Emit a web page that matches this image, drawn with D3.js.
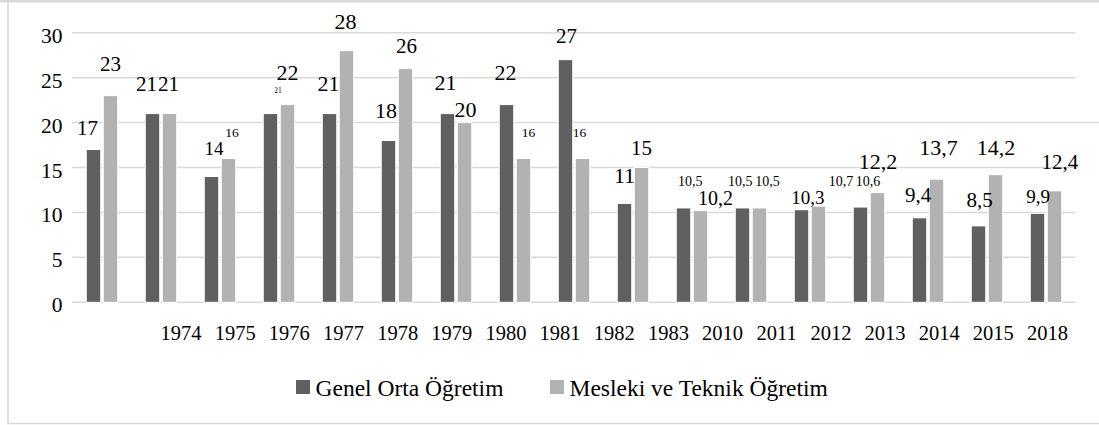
<!DOCTYPE html>
<html>
<head>
<meta charset="utf-8">
<script src="https://cdn.jsdelivr.net/npm/d3@7"></script>
<style>
  body { margin: 0; background: #fff; }
</style>
</head>
<body>
<div id="chart"></div>
<script>
// Data
var years = ["1974", "1975", "1976", "1977", "1978", "1979", "1980", "1981", "1982",
    "1983", "2010", "2011", "2012", "2013", "2014", "2015", "2018"];
var genel = [17, 21, 14, 21, 21, 18, 21, 22, 27, 11, 10.5, 10.5, 10.3, 10.6, 9.4, 8.5, 9.9];
var mesleki = [23, 21, 16, 22, 28, 26, 20, 16, 16, 15, 10.2, 10.5, 10.7, 12.2, 13.7, 14.2, 12.4];
var yTicks = [0, 5, 10, 15, 20, 25, 30];
var seriesNames = ["Genel Orta Öğretim", "Mesleki ve Teknik Öğretim"];

// label placement as it sits in the picture: [dx, gap above bar, font size]
var genelLab = [[-6, 15, 21], [-6, 23, 21], [2.5, 21, 19], [7.5, 21, 7.5], [-1, 23, 22],
    [-2.5, 23, 22], [-2, 23.5, 22], [-1, 24.5, 22], [1, 17, 21], [0, 20, 22],
    [6.7, 22, 14], [-2.3, 22, 14], [6.3, 5.4, 19], [7.5, 21, 14], [-1.5, 15.5, 21],
    [1, 18.6, 21], [0.7, 10, 19]];
var meslekiLab = [[0, 24.5, 21], [-1, 23, 21], [3.5, 22, 13.5], [0, 24.5, 22], [-1, 22, 22],
    [1, 16, 21], [1, 6, 22], [5, 22, 13.5], [-3, 22, 13.5], [0, 12.5, 21],
    [15, 6, 20], [8, 22, 14], [22.5, 20.5, 14], [0.5, 24, 22], [2, 24, 22],
    [0.5, 19.6, 22], [5.5, 21.5, 21]];

var svgWidth = 1099;
var svgHeight = 425;
var colors = ["#606060", "#b2b2b2"];
var gridColor = "#d9d9d9";
var serif = "'Liberation Serif', 'Times New Roman', serif";

var svg = d3.select("#chart")
    .append("svg")
    .attr("width", svgWidth)
    .attr("height", svgHeight)
    .style("font-family", serif);

// outer frame
svg.append("rect")
    .attr("x", 8).attr("y", 1.5)
    .attr("width", 1100).attr("height", 422)
    .attr("fill", "none")
    .attr("stroke", gridColor)
    .attr("stroke-width", 1.5);
svg.append("line")
    .attr("x1", 0).attr("x2", svgWidth)
    .attr("y1", 1.2).attr("y2", 1.2)
    .attr("stroke", gridColor)
    .attr("stroke-width", 2.5);

// scales
var x0 = d3.scaleBand().domain(years).range([72.5, 1075.5]);
var x1 = d3.scaleBand().domain([0, 1]).range([13.75, 45.25]).paddingInner(0.147);
var y = d3.scaleLinear().domain([0, 30]).range([302.3, 32.7]);
var xLabels = d3.scalePoint().domain(years).range([180.5, 1047]);

// gridlines
svg.append("g")
    .selectAll("line")
    .data(yTicks)
    .enter()
    .append("line")
    .attr("x1", 72)
    .attr("x2", d => d === 20 ? svgWidth : 1075.5)
    .attr("y1", d => y(d))
    .attr("y2", d => y(d))
    .attr("stroke", gridColor)
    .attr("stroke-width", 1.5);

// y axis labels
svg.append("g")
    .selectAll("text")
    .data(yTicks)
    .enter()
    .append("text")
    .attr("x", 62.5)
    .attr("y", d => y(d) + 10)
    .attr("text-anchor", "end")
    .style("font-family", serif)
    .attr("font-size", 21.5)
    .text(d => d);

// bars
var groups = svg.append("g")
    .selectAll("g")
    .data(years)
    .enter()
    .append("g")
    .attr("transform", d => `translate(${x0(d)},0)`);

groups.selectAll("rect")
    .data((d, i) => [genel[i], mesleki[i]])
    .enter()
    .append("rect")
    .attr("x", (d, j) => x1(j))
    .attr("width", x1.bandwidth())
    .attr("y", d => y(d))
    .attr("height", d => y(0) - y(d))
    .attr("fill", (d, j) => colors[j])
    .attr("stroke", "#fff")
    .attr("stroke-width", 1);

// data labels
var fmt = v => String(v).replace(".", ",");
groups.selectAll("text")
    .data((d, i) => [[genel[i], genelLab[i]], [mesleki[i], meslekiLab[i]]])
    .enter()
    .append("text")
    .attr("x", (d, j) => x1(j) + x1.bandwidth() / 2 + d[1][0])
    .attr("y", d => y(d[0]) - d[1][1])
    .attr("text-anchor", "middle")
    .style("font-family", serif)
    .attr("font-size", d => d[1][2])
    .text(d => fmt(d[0]));

// x axis labels
var xAxis = d3.axisBottom(xLabels).tickSize(0).tickPadding(0);
var xg = svg.append("g")
    .attr("transform", "translate(0, 325)")
    .call(xAxis);
xg.select(".domain").remove();
xg.selectAll("text")
    .attr("dy", 0)
    .attr("y", 14.5)
    .attr("font-size", 20.5)
    .style("font-family", serif)
    .attr("fill", "#000");

// legend
var legendX = [296, 550];
var legend = svg.append("g")
    .selectAll("g")
    .data(seriesNames)
    .enter()
    .append("g")
    .attr("transform", (d, i) => `translate(${legendX[i]}, 380)`);
legend.append("rect")
    .attr("width", 14)
    .attr("height", 14)
    .attr("fill", (d, i) => colors[i]);
legend.append("text")
    .attr("x", 19.5)
    .attr("y", 16)
    .style("font-family", serif)
    .attr("font-size", 23.5)
    .text(d => d);
</script>
</body>
</html>
